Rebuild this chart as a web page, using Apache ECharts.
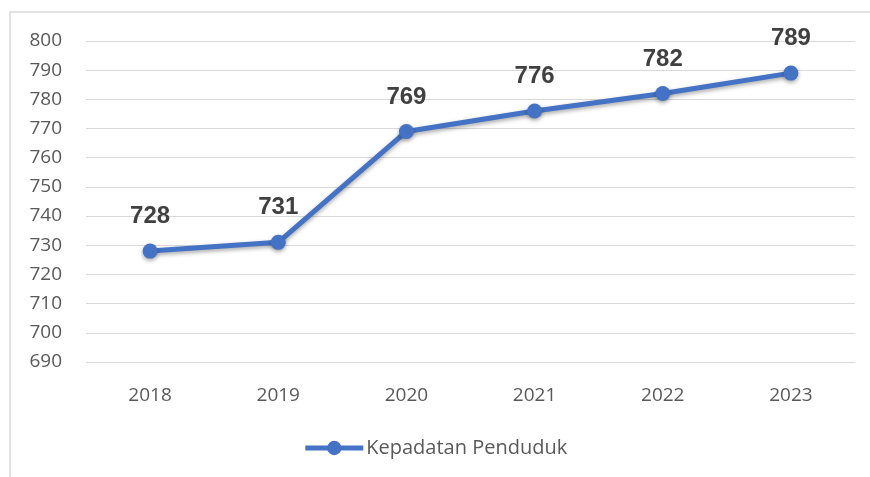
<!DOCTYPE html>
<html>
<head>
<meta charset="utf-8">
<script src="https://cdn.jsdelivr.net/npm/echarts@6/dist/echarts.min.js"></script>
<style>
  html, body { margin: 0; padding: 0; background: #fff; }
  #chart { width: 870px; height: 477px; }
</style>
</head>
<body>
<div id="chart"></div>
<script>
const years = ['2018', '2019', '2020', '2021', '2022', '2023'];
const kepadatan = [728, 731, 769, 776, 782, 789];
const seriesName = 'Kepadatan Penduduk';

const myChart = echarts.init(document.getElementById('chart'));

const option = {
  animation: false,
  backgroundColor: '#fff',
  graphic: [
    {
      type: 'rect',
      shape: { x: 10, y: 12, width: 900, height: 500 },
      style: { fill: 'none', stroke: '#d9d9d9', lineWidth: 1.5 },
      silent: true,
    },
  ],
  grid: { left: 86, right: 15, top: 41, bottom: 115 },
  legend: {
    bottom: 14,
    left: 'center',
    itemWidth: 58,
    itemHeight: 18,
    itemGap: 4,
    data: [seriesName],
    lineStyle: { width: 5 },
    textStyle: { color: '#595959', fontSize: 20, fontFamily: 'Open Sans', padding: [0, 0, 0, -2] },
  },
  xAxis: {
    type: 'category',
    data: years,
    axisLine: { show: false },
    axisTick: { show: false },
    axisLabel: { color: '#595959', fontSize: 19, fontFamily: 'Open Sans', margin: 24 },
  },
  yAxis: {
    type: 'value',
    min: 690,
    max: 800,
    interval: 10,
    axisLine: { show: false },
    axisTick: { show: false },
    axisLabel: { color: '#595959', fontSize: 19, fontFamily: 'Open Sans', margin: 24 },
    splitLine: { lineStyle: { color: '#d9d9d9', width: 1.2 } },
  },
  series: [
    {
      name: seriesName,
      type: 'line',
      data: kepadatan,
      symbol: 'circle',
      symbolSize: 15,
      color: '#4472C4',
      lineStyle: {
        width: 5,
        color: '#4472C4',
        shadowBlur: 4,
        shadowColor: 'rgba(0,0,0,0.35)',
        shadowOffsetY: 2,
      },
      itemStyle: {
        color: '#4472C4',
        shadowBlur: 4,
        shadowColor: 'rgba(0,0,0,0.35)',
        shadowOffsetY: 2,
      },
      label: {
        show: true,
        position: 'top',
        distance: 15,
        fontSize: 24,
        fontWeight: 'bold',
        fontFamily: 'Liberation Sans',
        color: '#404040',
      },
    },
  ],
};

myChart.setOption(option);
</script>
</body>
</html>
